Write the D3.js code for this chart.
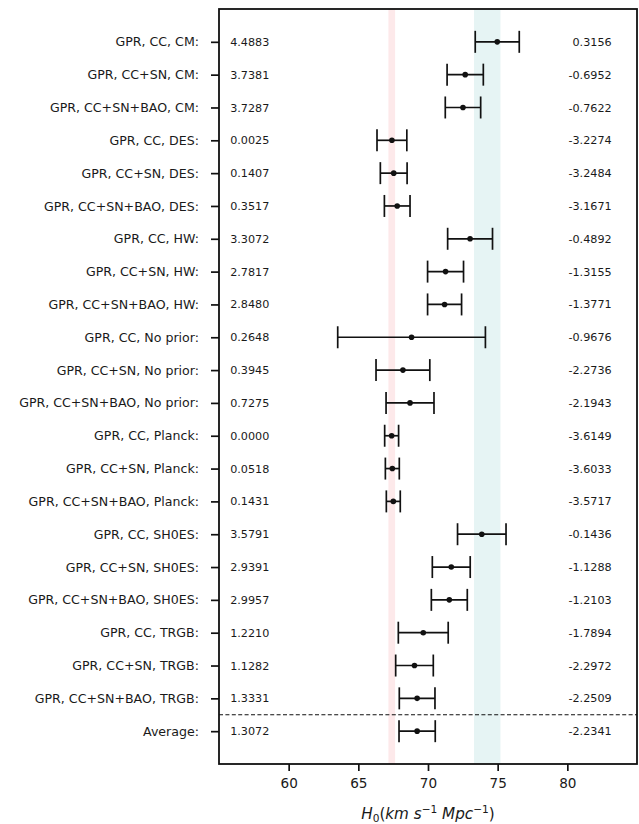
<!DOCTYPE html>
<html>
<head>
<meta charset="utf-8">
<script src="https://cdn.jsdelivr.net/npm/d3@7"></script>
<style>
  body { margin: 0; background: #fff; }
  text { font-family: "DejaVu Sans", sans-serif; fill: #1a1a1a; }
</style>
</head>
<body>
<div id="chart"></div>
<script>
// rows, top to bottom
const labels = [
  "GPR, CC, CM:", "GPR, CC+SN, CM:", "GPR, CC+SN+BAO, CM:",
  "GPR, CC, DES:", "GPR, CC+SN, DES:", "GPR, CC+SN+BAO, DES:",
  "GPR, CC, HW:", "GPR, CC+SN, HW:", "GPR, CC+SN+BAO, HW:",
  "GPR, CC, No prior:", "GPR, CC+SN, No prior:", "GPR, CC+SN+BAO, No prior:",
  "GPR, CC, Planck:", "GPR, CC+SN, Planck:", "GPR, CC+SN+BAO, Planck:",
  "GPR, CC, SH0ES:", "GPR, CC+SN, SH0ES:", "GPR, CC+SN+BAO, SH0ES:",
  "GPR, CC, TRGB:", "GPR, CC+SN, TRGB:", "GPR, CC+SN+BAO, TRGB:",
  "Average:"
]
const h0 = [74.97, 72.67, 72.51, 67.41, 67.54, 67.79, 73.02, 71.26, 71.19, 68.82, 68.20,
  68.71, 67.39, 67.44, 67.51, 73.86, 71.67, 71.53, 69.66, 69.03, 69.22, 69.22]
const h0Err = [1.58, 1.30, 1.27, 1.07, 0.96, 0.92, 1.61, 1.29, 1.22, 5.30, 1.93,
  1.72, 0.50, 0.50, 0.50, 1.74, 1.36, 1.29, 1.79, 1.35, 1.28, 1.30]
const leftVals = [4.4883, 3.7381, 3.7287, 0.0025, 0.1407, 0.3517, 3.3072, 2.7817, 2.8480,
  0.2648, 0.3945, 0.7275, 0.0000, 0.0518, 0.1431, 3.5791, 2.9391, 2.9957, 1.2210, 1.1282,
  1.3331, 1.3072]
const rightVals = [0.3156, -0.6952, -0.7622, -3.2274, -3.2484, -3.1671, -0.4892, -1.3155,
  -1.3771, -0.9676, -2.2736, -2.1943, -3.6149, -3.6033, -3.5717, -0.1436, -1.1288, -1.2103,
  -1.7894, -2.2972, -2.2509, -2.2341]
const xTicks = [60, 65, 70, 75, 80]
const planckBand = [67.16, 67.64]
const shoesBand = [73.3, 75.2]

const W = 639, H = 824
const plot = { left: 219, right: 637, top: 9, bottom: 764 }

const svg = d3.select('#chart').append('svg')
  .attr('width', W)
  .attr('height', H)

const x = d3.scaleLinear().domain([55, 85]).range([plot.left, plot.right])
const y = d3.scaleLinear().domain([-1, 22]).range([plot.top, plot.bottom])

// reference bands
svg.append('rect')
  .attr('x', x(planckBand[0])).attr('y', plot.top)
  .attr('width', x(planckBand[1]) - x(planckBand[0]))
  .attr('height', plot.bottom - plot.top)
  .attr('fill', '#fde9ea')
svg.append('rect')
  .attr('x', x(shoesBand[0])).attr('y', plot.top)
  .attr('width', x(shoesBand[1]) - x(shoesBand[0]))
  .attr('height', plot.bottom - plot.top)
  .attr('fill', '#e6f4f4')

// separator before the average
svg.append('line')
  .attr('x1', plot.left).attr('x2', plot.right)
  .attr('y1', y(20.5)).attr('y2', y(20.5))
  .attr('stroke', '#111').attr('stroke-width', 1.1)
  .attr('stroke-dasharray', '4,2.4')

const rows = labels.map((l, i) => ({ label: l, h0: h0[i], err: h0Err[i], lv: leftVals[i], rv: rightVals[i], i }))

// error bars
const eb = svg.append('g').selectAll('g')
  .data(rows)
  .join('g')
  .attr('stroke', '#111')
  .attr('stroke-width', 1.7)

eb.append('line')
  .attr('x1', d => x(d.h0 - d.err)).attr('x2', d => x(d.h0 + d.err))
  .attr('y1', d => y(d.i)).attr('y2', d => y(d.i))
eb.append('line')
  .attr('x1', d => x(d.h0 - d.err)).attr('x2', d => x(d.h0 - d.err))
  .attr('y1', d => y(d.i) - 11).attr('y2', d => y(d.i) + 11)
eb.append('line')
  .attr('x1', d => x(d.h0 + d.err)).attr('x2', d => x(d.h0 + d.err))
  .attr('y1', d => y(d.i) - 11).attr('y2', d => y(d.i) + 11)
eb.append('circle')
  .attr('cx', d => x(d.h0)).attr('cy', d => y(d.i))
  .attr('r', 2.8).attr('fill', '#111').attr('stroke', 'none')

// number columns
svg.append('g').selectAll('text')
  .data(rows)
  .join('text')
  .attr('x', x(55.8))
  .attr('y', d => y(d.i))
  .attr('dy', '0.36em')
  .attr('font-size', 11.2)
  .text(d => d.lv.toFixed(4))

svg.append('g').selectAll('text')
  .data(rows)
  .join('text')
  .attr('x', x(83.18))
  .attr('y', d => y(d.i))
  .attr('dy', '0.36em')
  .attr('text-anchor', 'end')
  .attr('font-size', 11.2)
  .text(d => d.rv.toFixed(4))

// axes
const xAxis = d3.axisBottom(x).tickValues(xTicks).tickSize(7).tickPadding(7)
const yAxis = d3.axisLeft(y).tickValues(d3.range(labels.length))
  .tickFormat(i => labels[i]).tickSize(8).tickPadding(12)

const gx = svg.append('g')
  .attr('transform', `translate(0,${plot.bottom})`)
  .call(xAxis)
gx.select('.domain').remove()
gx.selectAll('text').attr('font-size', 13.6).attr('font-family', 'DejaVu Sans').attr('fill', '#1a1a1a')

const gy = svg.append('g')
  .attr('transform', `translate(${plot.left},0)`)
  .call(yAxis)
gy.select('.domain').remove()
gy.selectAll('text').attr('font-size', 12.6).attr('font-family', 'DejaVu Sans').attr('fill', '#1a1a1a')

svg.selectAll('.tick line').attr('stroke', '#111').attr('stroke-width', 1.7)

// frame
svg.append('rect')
  .attr('x', plot.left).attr('y', plot.top)
  .attr('width', plot.right - plot.left)
  .attr('height', plot.bottom - plot.top)
  .attr('fill', 'none').attr('stroke', '#111').attr('stroke-width', 1.8)

// x label
const xl = svg.append('text')
  .attr('x', (plot.left + plot.right) / 2)
  .attr('y', 819)
  .attr('text-anchor', 'middle')
  .attr('font-size', 15.2)
xl.append('tspan').attr('font-style', 'italic').text('H')
xl.append('tspan').attr('font-size', 10.6).attr('dy', 3).text('0')
xl.append('tspan').attr('dy', -3).text('(')
xl.append('tspan').attr('font-style', 'italic').text('km s')
xl.append('tspan').attr('font-size', 10.6).attr('dy', -6.5).text('−1')
xl.append('tspan').attr('dy', 6.5).attr('font-style', 'italic').text(' Mpc')
xl.append('tspan').attr('font-size', 10.6).attr('dy', -6.5).text('−1')
xl.append('tspan').attr('dy', 6.5).text(')')
</script>
</body>
</html>
